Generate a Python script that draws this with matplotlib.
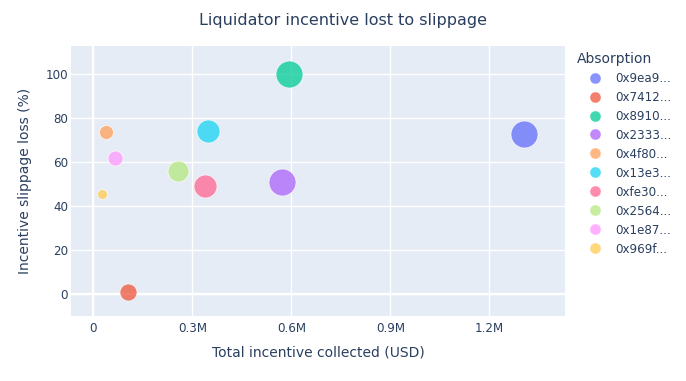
import matplotlib
matplotlib.use("Agg")
import matplotlib.pyplot as plt
from matplotlib.ticker import FuncFormatter, MultipleLocator
from matplotlib.lines import Line2D
import numpy as np

plt.rcParams['font.family'] = ['DejaVu Sans']

# ===== DATA =====
liquidators = ["0x9ea9...", "0x7412...", "0x8910...", "0x2333...", "0x4f80...",
               "0x13e3...", "0xfe30...", "0x2564...", "0x1e87...", "0x969f..."]
incentive_usd = [1306000, 106000, 592000, 571000, 38500,
                 347000, 338000, 257000, 65000, 25500]
slippage_pct = [72.7, 0.9, 100.0, 51.2, 73.6, 74.2, 49.1, 56.0, 61.8, 45.7]
bubble_value = [729, 289, 729, 729, 196, 529, 529, 441, 225, 100]

colors = ['#636efa', '#EF553B', '#00cc96', '#ab63fa', '#FFA15A',
          '#19d3f3', '#FF6692', '#B6E880', '#FF97FF', '#FECB52']
text_color = '#2a3f5f'
bg = '#E5ECF6'

# ===== PLOT =====
W, H = 686, 381
fig = plt.figure(figsize=(W / 100, H / 100), dpi=100)
ax = fig.add_axes([71 / W, 1 - 316 / H, (565 - 71) / W, (316 - 46) / H])
ax.set_facecolor(bg)

px_to_pt = 0.72
for i, name in enumerate(liquidators):
    s = bubble_value[i] * px_to_pt ** 2
    ax.scatter(incentive_usd[i], slippage_pct[i], s=s, color=colors[i],
               alpha=0.75, edgecolors='white', linewidths=0.6, zorder=3)

ax.set_xlim(-67600, 1429000)
ax.set_ylim(-9.86, 112.9)
ax.xaxis.set_major_locator(MultipleLocator(300000))
ax.yaxis.set_major_locator(MultipleLocator(20))
ax.xaxis.set_major_formatter(FuncFormatter(lambda v, p: "0" if v == 0 else f"{v / 1e6:g}M"))

ax.grid(True, color='white', linewidth=1, zorder=0)
ax.set_axisbelow(True)
ax.axhline(0, color='white', linewidth=1.6, zorder=1)
ax.axvline(0, color='white', linewidth=1.6, zorder=1)
for sp in ax.spines.values():
    sp.set_visible(False)
ax.tick_params(length=0, labelsize=8.6, colors=text_color)
ax.tick_params(axis='x', pad=4)
ax.tick_params(axis='y', pad=2)

ax.set_xlabel('Total incentive collected (USD)', fontsize=10, color=text_color, labelpad=8)
ax.set_ylabel('Incentive slippage loss (%)', fontsize=10, color=text_color, labelpad=10)

fig.text(0.5, 1 - 20 / H, 'Liquidator incentive lost to slippage',
         ha='center', va='center', fontsize=11.5, color=text_color)

handles = [Line2D([0], [0], marker='o', linestyle='', markersize=8,
                  markerfacecolor=c, markeredgecolor='white', markeredgewidth=0.4,
                  alpha=0.75) for c in colors]
leg = fig.legend(handles, liquidators, title='Absorption', loc='upper left',
                 bbox_to_anchor=(572 / W, 1 - 47 / H), frameon=False,
                 fontsize=8.6, title_fontsize=10, labelspacing=0.5,
                 handletextpad=0.15, handlelength=3.1, borderaxespad=0)
leg._legend_box.align = 'left'
for t in leg.get_texts():
    t.set_color(text_color)
leg.get_title().set_color(text_color)

fig.savefig('out.png', dpi=100, facecolor='white')
